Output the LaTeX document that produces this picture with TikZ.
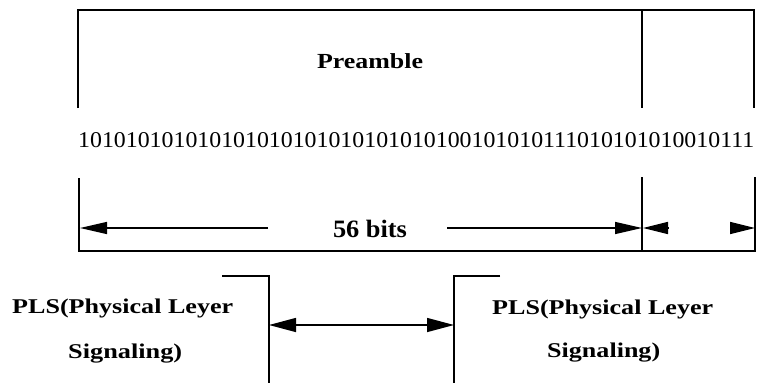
\documentclass[tikz,border=0pt]{standalone}
\usepackage{fontspec}
\setmainfont{Liberation Serif}
\usetikzlibrary{arrows.meta}
\newcommand{\wtext}[3]{\fontsize{#1}{#1}\selectfont\resizebox{#2pt}{\height}{#3}}
\begin{document}
\begin{tikzpicture}[x=1pt,y=-1pt,
  frame/.style={line width=1.4pt},
  lbl/.style={inner sep=0pt,anchor=base,font=\bfseries},
  tipL/.style={-{Triangle[length=27pt,width=12pt]}},
  dbl/.style={{Triangle[length=27pt,width=14pt]}-{Triangle[length=27pt,width=14pt]}}]
\useasboundingbox (0,0) rectangle (765,383);

% preamble frame
\coordinate (tl) at (78,108); \coordinate (tlt) at (78,10);
\coordinate (trt) at (754,10); \coordinate (tr) at (754,108);
\coordinate (tmt) at (642,10); \coordinate (tm) at (642,108);
\draw[frame] (tl) -- (tlt) -- (trt) -- (tr);
\draw[frame] (tmt) -- (tm);
\node[lbl] (pre) at (370,68) {\wtext{21.5}{106}{Preamble}};

% bit pattern
\node[inner sep=0pt,anchor=base west] (bits) at (78,147)
  {\fontsize{22}{22}\selectfont\resizebox{676pt}{15pt}{101010101010101010101010101010100101010111010101010010111}};

% length frame
\coordinate (bl) at (79,178); \coordinate (blb) at (79,251);
\coordinate (brb) at (755,251); \coordinate (br) at (755,177);
\coordinate (bmt) at (642,177); \coordinate (bmb) at (642,251);
\draw[frame] (bl) -- (blb) -- (brb) -- (br);
\draw[frame] (bmt) -- (bmb);
\node[lbl] (len) at (370,237) {\wtext{25}{74}{56 bits}};

\coordinate (a1s) at (268,228); \coordinate (a1e) at (80,228);
\coordinate (a2s) at (447,228); \coordinate (a2e) at (642,228);
\coordinate (a3s) at (668,228); \coordinate (a3e) at (643,228);
\coordinate (a4s) at (730,228); \coordinate (a4e) at (755,228);
\draw[frame,tipL] (a1s) -- (a1e);
\draw[frame,tipL] (a2s) -- (a2e);
\draw[frame,-{Triangle[length=25pt,width=12pt]}] (a3s) -- (a3e);
\draw[frame,-{Triangle[length=25pt,width=12pt]}] (a4s) -- (a4e);

% PLS brackets
\coordinate (lh) at (222,276); \coordinate (lc) at (269,276); \coordinate (lb) at (269,383);
\coordinate (rh) at (500,276); \coordinate (rc) at (454,276); \coordinate (rb) at (454,383);
\draw[frame] (lh) -- (lc) -- (lb);
\draw[frame] (rh) -- (rc) -- (rb);
\coordinate (la) at (269,325); \coordinate (ra) at (454,325);
\draw[frame,dbl] (la) -- (ra);

\node[lbl,anchor=base west] (pls1) at (12,313) {\wtext{21}{221}{PLS(Physical Leyer}};
\node[lbl,anchor=base west] (sig1) at (68,358) {\wtext{21}{114}{Signaling)}};
\node[lbl,anchor=base west] (pls2) at (492,314) {\wtext{21}{221}{PLS(Physical Leyer}};
\node[lbl,anchor=base west] (sig2) at (547,357) {\wtext{21}{113}{Signaling)}};
\end{tikzpicture}
\end{document}
